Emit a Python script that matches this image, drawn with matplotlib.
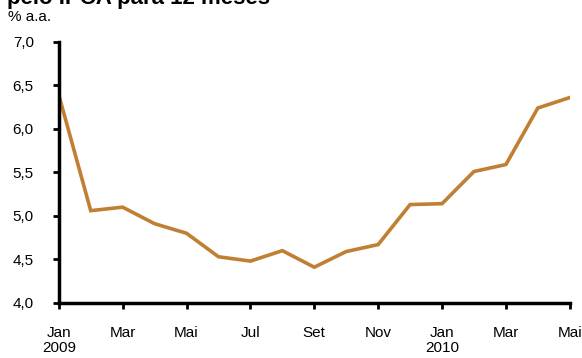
import matplotlib
matplotlib.use("Agg")
import matplotlib.pyplot as plt

plt.rcParams['font.family'] = ['Liberation Sans', 'DejaVu Sans']

months = ["Jan\n2009", "Fev", "Mar", "Abr", "Mai", "Jun", "Jul", "Ago", "Set",
          "Out", "Nov", "Dez", "Jan\n2010", "Fev", "Mar", "Abr", "Mai"]
values = [6.39, 5.06, 5.10, 4.91, 4.80, 4.53, 4.48, 4.60, 4.41,
          4.59, 4.67, 5.13, 5.14, 5.51, 5.59, 6.24, 6.36]
yticks = [4.0, 4.5, 5.0, 5.5, 6.0, 6.5, 7.0]

fig = plt.figure(figsize=(5.82, 3.58), dpi=100)
ax = fig.add_axes([0.101, 0.154, 0.878, 0.729])

x = list(range(len(values)))
ax.plot(x, values, color='#C07F32', lw=2.6, solid_joinstyle='miter')

ax.set_xlim(0, len(values) - 1)
ax.set_ylim(4.0, 7.0)
ax.set_yticks(yticks)
ax.set_yticklabels([f"{v:.1f}".replace('.', ',') for v in yticks], fontsize=11)
ax.set_xticks(x[::2])
ax.set_xticklabels(months[::2], fontsize=11, linespacing=1.05)

for s in ['top', 'right']:
    ax.spines[s].set_visible(False)
for s in ['left', 'bottom']:
    ax.spines[s].set_linewidth(2.5)
ax.tick_params(axis='both', width=2, length=4, direction='out')
ax.tick_params(axis='x', pad=13)
ax.tick_params(axis='y', pad=14)

fig.text(0.012, 0.989, "pelo IPCA para 12 meses", fontsize=16, fontweight='bold',
         va='baseline', ha='left')
fig.text(0.013, 0.952, "% a.a.", fontsize=11, va='center', ha='left')

fig.savefig("out.png", dpi=100)
